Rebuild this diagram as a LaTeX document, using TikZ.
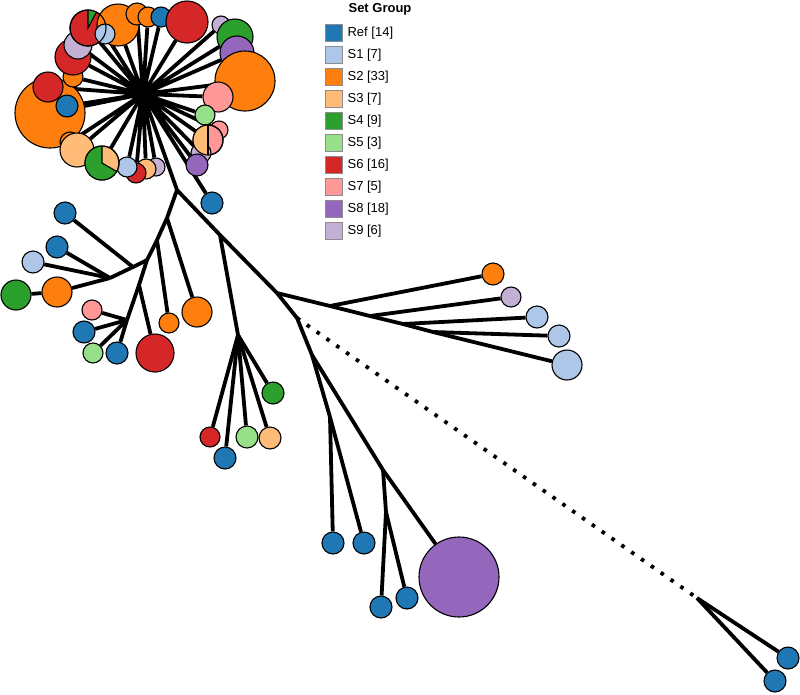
\documentclass[tikz,border=0pt]{standalone}
\usepackage{fontspec}
\setmainfont{Liberation Sans}
\usetikzlibrary{positioning,backgrounds}
\definecolor{cref}{HTML}{1F77B4}
\definecolor{cs1}{HTML}{AEC7E8}
\definecolor{cs2}{HTML}{FF7F0E}
\definecolor{cs3}{HTML}{FFBB78}
\definecolor{cs4}{HTML}{2CA02C}
\definecolor{cs5}{HTML}{98DF8A}
\definecolor{cs6}{HTML}{D62728}
\definecolor{cs7}{HTML}{FF9896}
\definecolor{cs8}{HTML}{9467BD}
\definecolor{cs9}{HTML}{C5B0D5}

\begin{document}
\begin{tikzpicture}[x=1pt, y=-1pt,
  leaf/.style={circle, draw=black, line width=1.1pt, inner sep=0pt,
               minimum size=#1},
  link/.style={line width=3.8pt},
  dotlink/.style={line width=3.8pt, dash pattern=on 3.6pt off 8.4pt},
  rim/.style={line width=1.1pt},
  keybox/.style={rectangle, draw=black!45, line width=0.8pt,
                 minimum size=17pt, inner sep=0pt},
  keytext/.style={font=\fontsize{13}{15}\selectfont, inner sep=0pt}
]
\useasboundingbox (0,0) rectangle (800,694);

% branch points
\coordinate (hub) at (143,94);
\coordinate (j1)  at (177,190);
\coordinate (j3)  at (220,235);
\coordinate (j2)  at (277,293);
\coordinate (j4)  at (238,335);
\coordinate (r1)  at (330,306);
\coordinate (r2)  at (370,316);
\coordinate (r3)  at (403,324);
\coordinate (r4)  at (433,332);
\coordinate (j5)  at (297,318);
\coordinate (j6)  at (697,598);
\coordinate (j7)  at (312,355);
\coordinate (j8)  at (330,417);
\coordinate (j9)  at (383,470);
\coordinate (j10) at (386,512);
\coordinate (j11) at (167,218);
\coordinate (j12) at (157,240);
\coordinate (j13) at (147,260);
\coordinate (j14) at (133,267);
\coordinate (j15) at (110,278);
\coordinate (j17) at (139,285);
\coordinate (j16) at (127,320);

% top cluster
\node[leaf=70pt, fill=cs2] (c1)  at (50,113)  {};
\node[leaf=30pt, fill=cs6] (c2)  at (48,87)   {};
\node[leaf=22pt, fill=cref] (c3) at (67,106)  {};
\node[leaf=20pt, fill=cs2] (c30) at (73,77)   {};
\node[leaf=36pt, fill=cs6] (c29) at (73,57)   {};
\node[leaf=28pt, fill=cs9] (c28) at (78,45)   {};
\node[leaf=36pt, fill=cs6] (c27) at (88,28)   {};
\node[leaf=42pt, fill=cs2] (c25) at (118,25)  {};
\node[leaf=20pt, fill=cs1] (c26) at (105,34)  {};
\node[leaf=22pt, fill=cs2] (c24) at (137,14)  {};
\node[leaf=20pt, fill=cs2] (c23) at (148,17)  {};
\node[leaf=20pt, fill=cref] (c22) at (161,17) {};
\node[leaf=42pt, fill=cs6] (c21) at (187,22)  {};
\node[leaf=18pt, fill=cs9] (c20) at (221,25)  {};
\node[leaf=36pt, fill=cs4] (c19) at (235,37)  {};
\node[leaf=34pt, fill=cs8] (c18) at (237,53)  {};
\node[leaf=60pt, fill=cs2] (c17) at (245,81)  {};
\node[leaf=30pt, fill=cs7] (c16) at (218,97)  {};
\node[leaf=20pt, fill=cs5] (c15) at (205,115) {};
\node[leaf=18pt, fill=cs7] (c13) at (219,130) {};
\node[leaf=30pt, fill=cs7] (c14) at (208,140) {};
\node[leaf=20pt, fill=cs9] (c12) at (201,153) {};
\node[leaf=22pt, fill=cs8] (c11) at (197,165) {};
\node[leaf=18pt, fill=cs9] (c10) at (156,167) {};
\node[leaf=20pt, fill=cs3] (c9)  at (146,169) {};
\node[leaf=20pt, fill=cs6] (c8)  at (136,173) {};
\node[leaf=20pt, fill=cs1] (c7)  at (127,167) {};
\node[leaf=20pt, fill=cs2] (c4)  at (70,142)  {};
\node[leaf=34pt, fill=cs3] (c5)  at (77,150)  {};
\node[leaf=34pt, fill=cs3] (c6)  at (102,163) {};

% pies
\fill[cs4] (c27.center) -- ++(62:18pt) arc[start angle=62, end angle=90, radius=18pt] -- cycle;
\draw[rim] (c27.center) ++(62:18pt) -- (c27.center) -- ++(90:18pt);
\draw[rim] (c27.center) circle[radius=18pt];
\fill[cs3] (c14.center) -- ++(90:15pt) arc[start angle=90, end angle=270, radius=15pt] -- cycle;
\draw[rim] (c14.center) ++(90:15pt) -- ++(0,30);
\draw[rim] (c14.center) circle[radius=15pt];
\fill[cs4] (c6.center) -- ++(90:17pt) arc[start angle=90, end angle=330, radius=17pt] -- cycle;
\draw[rim] (c6.center) ++(90:17pt) -- (c6.center) -- ++(330:17pt);
\draw[rim] (c6.center) circle[radius=17pt];

% lower tree
\node[leaf=22pt, fill=cref] (b0) at (212,203) {};
\node[leaf=20pt, fill=cs6]  (f1) at (210,437) {};
\node[leaf=22pt, fill=cref] (f2) at (225,458) {};
\node[leaf=22pt, fill=cs5]  (f3) at (247,437) {};
\node[leaf=22pt, fill=cs3]  (f4) at (270,438) {};
\node[leaf=22pt, fill=cs4]  (f5) at (273,393) {};

\node[leaf=22pt, fill=cs2] (k1) at (493,274) {};
\node[leaf=20pt, fill=cs9] (k2) at (511,297) {};
\node[leaf=22pt, fill=cs1] (k3) at (537,317) {};
\node[leaf=22pt, fill=cs1] (k4) at (559,336) {};
\node[leaf=30pt, fill=cs1] (k5) at (567,365) {};

\node[leaf=22pt, fill=cref] (e1) at (788,658) {};
\node[leaf=22pt, fill=cref] (e2) at (775,681) {};

\node[leaf=22pt, fill=cref] (g1) at (333,543) {};
\node[leaf=22pt, fill=cref] (g2) at (364,543) {};
\node[leaf=22pt, fill=cref] (g3) at (381,607) {};
\node[leaf=22pt, fill=cref] (g4) at (407,598) {};
\node[leaf=80pt, fill=cs8]  (g5) at (459,577) {};

\node[leaf=30pt, fill=cs2]  (o2) at (197,312) {};
\node[leaf=20pt, fill=cs2]  (o3) at (169,323) {};
\node[leaf=22pt, fill=cref] (a1) at (65,213)  {};
\node[leaf=22pt, fill=cref] (a2) at (57,247)  {};
\node[leaf=22pt, fill=cs1]  (a3) at (33,262)  {};
\node[leaf=30pt, fill=cs2]  (a4) at (57,292)  {};
\node[leaf=30pt, fill=cs4]  (a5) at (16,295)  {};
\node[leaf=38pt, fill=cs6]  (a6) at (155,353) {};
\node[leaf=20pt, fill=cs7]  (d1) at (92,310)  {};
\node[leaf=22pt, fill=cref] (d2) at (84,332)  {};
\node[leaf=20pt, fill=cs5]  (d3) at (93,353)  {};
\node[leaf=22pt, fill=cref] (d4) at (117,353) {};

% connectors
\begin{scope}[on background layer]
\draw[link] (hub) -- (c1)  (hub) -- (c2)  (hub) -- (c3)  (hub) -- (c4)
            (hub) -- (c5)  (hub) -- (c6)  (hub) -- (c7)  (hub) -- (c8)
            (hub) -- (c9)  (hub) -- (c10) (hub) -- (c11) (hub) -- (c12)
            (hub) -- (c13) (hub) -- (c14) (hub) -- (c15) (hub) -- (c16)
            (hub) -- (c17) (hub) -- (c18) (hub) -- (c19) (hub) -- (c20)
            (hub) -- (c21) (hub) -- (c22) (hub) -- (c23) (hub) -- (c24)
            (hub) -- (c25) (hub) -- (c26) (hub) -- (c27) (hub) -- (c28)
            (hub) -- (c29) (hub) -- (c30);
\draw[link] (hub) -- (b0);
\draw[link] (hub) -- (j1) -- (j3) -- (j2);
\draw[link] (j3) -- (j4);
\draw[link] (j4) -- (f1);
\draw[link] (j4) -- (f2);
\draw[link] (j4) -- (f3);
\draw[link] (j4) -- (f4);
\draw[link] (j4) -- (f5);

\draw[link] (j2) -- (r1) -- (r2) -- (r3) -- (r4) -- (k5);
\draw[link] (r1) -- (k1);
\draw[link] (r2) -- (k2);
\draw[link] (r3) -- (k3);
\draw[link] (r4) -- (k4);

\draw[link] (j2) -- (j5) -- (j7);
\draw[dotlink] (j5) -- (j6);
\draw[link] (j6) -- (e1);
\draw[link] (j6) -- (e2);
\draw[link] (j7) -- (j8);
\draw[link] (j7) -- (j9);
\draw[link] (j8) -- (g1);
\draw[link] (j8) -- (g2);
\draw[link] (j9) -- (j10);
\draw[link] (j10) -- (g3);
\draw[link] (j10) -- (g4);
\draw[link] (j9) -- (g5);

\draw[link] (j1) -- (j11) -- (j12) -- (j13) -- (j17) -- (j16);
\draw[link] (j11) -- (o2);
\draw[link] (j12) -- (o3);
\draw[link] (j13) -- (j14) -- (j15);
\draw[link] (j14) -- (a1);
\draw[link] (j15) -- (a2);
\draw[link] (j15) -- (a3);
\draw[link] (j15) -- (a4) -- (a5);
\draw[link] (j17) -- (a6);
\draw[link] (j16) -- (d1);
\draw[link] (j16) -- (d2);
\draw[link] (j16) -- (d3);
\draw[link] (j16) -- (d4);
\end{scope}

% legend
\node[keytext, font=\fontsize{13}{15}\selectfont\bfseries] (ttl) at (380,9) {Set Group};
\node[keybox, fill=cref] (kref) at (333.5,33)  {};
\node[keybox, fill=cs1]  (ks1)  at (333.5,55)  {};
\node[keybox, fill=cs2]  (ks2)  at (333.5,77)  {};
\node[keybox, fill=cs3]  (ks3)  at (333.5,99)  {};
\node[keybox, fill=cs4]  (ks4)  at (333.5,121) {};
\node[keybox, fill=cs5]  (ks5)  at (333.5,143) {};
\node[keybox, fill=cs6]  (ks6)  at (333.5,165) {};
\node[keybox, fill=cs7]  (ks7)  at (333.5,187) {};
\node[keybox, fill=cs8]  (ks8)  at (333.5,209) {};
\node[keybox, fill=cs9]  (ks9)  at (333.5,231) {};
\node[keytext, right=5pt of kref] {Ref [14]};
\node[keytext, right=5pt of ks1]  {S1 [7]};
\node[keytext, right=5pt of ks2]  {S2 [33]};
\node[keytext, right=5pt of ks3]  {S3 [7]};
\node[keytext, right=5pt of ks4]  {S4 [9]};
\node[keytext, right=5pt of ks5]  {S5 [3]};
\node[keytext, right=5pt of ks6]  {S6 [16]};
\node[keytext, right=5pt of ks7]  {S7 [5]};
\node[keytext, right=5pt of ks8]  {S8 [18]};
\node[keytext, right=5pt of ks9]  {S9 [6]};

\end{tikzpicture}
\end{document}
